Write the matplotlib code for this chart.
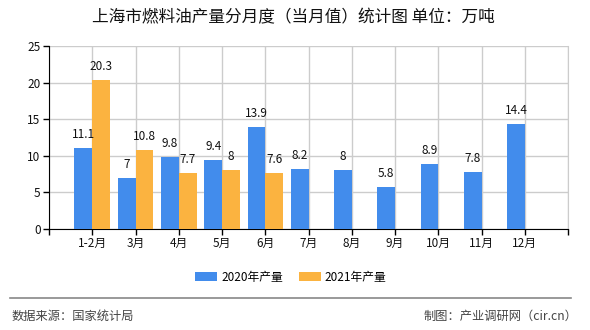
import matplotlib
matplotlib.use('Agg')
import matplotlib.pyplot as plt
import numpy as np

plt.rcParams['font.family'] = ['Noto Sans CJK SC', 'DejaVu Sans']

months = ['1-2月', '3月', '4月', '5月', '6月', '7月', '8月', '9月', '10月', '11月', '12月']
output_2020 = [11.1, 7, 9.8, 9.4, 13.9, 8.2, 8, 5.8, 8.9, 7.8, 14.4]
output_2021 = [20.3, 10.8, 7.7, 8, 7.6]
series_names = ['2020年产量', '2021年产量']

blue = '#428cec'
orange = '#fbb340'

fig = plt.figure(figsize=(5.9, 3.3), dpi=100)
ax = fig.add_axes([0.083, 0.306, 0.88, 0.555])

x = np.arange(1, len(months) + 1)
w = 0.41
b1 = ax.bar(x - w / 2, output_2020, w, color=blue, label=series_names[0], zorder=3)
b2 = ax.bar(x[:len(output_2021)] + w / 2, output_2021, w, color=orange,
            label=series_names[1], zorder=3)

# value labels on top of every bar
for bars, vals in [(b1, output_2020), (b2, output_2021)]:
    for r, v in zip(bars, vals):
        ax.annotate('{:g}'.format(v), (r.get_x() + r.get_width() / 2, v),
                    xytext=(0, 5), textcoords='offset points',
                    ha='center', va='bottom', fontsize=8.5, color='#111111')

ax.set_xlim(0, 12)
ax.set_ylim(0, 25)
ax.set_yticks([0, 5, 10, 15, 20, 25])
ax.set_xticks(list(range(0, 13)))
ax.set_xticklabels([''] + months + [''])
ax.tick_params(axis='both', labelsize=8.5, length=4, width=1, color='black',
               labelcolor='#111111', pad=2)

ax.grid(True, color='#cccccc', lw=1, zorder=0)
ax.spines['top'].set_visible(False)
ax.spines['right'].set_color('#cccccc')
ax.spines['left'].set_color('black')
ax.spines['bottom'].set_color('black')

fig.text(0.498, 0.947, '上海市燃料油产量分月度（当月值）统计图 单位：万吨',
         ha='center', va='center', fontsize=12, color='#111111')

fig.legend(loc='center', bbox_to_anchor=(0.493, 0.16), ncol=2, frameon=False,
           fontsize=8.5, handlelength=1.86, handleheight=0.7, columnspacing=1.35,
           handletextpad=0.34)

fig.add_artist(matplotlib.lines.Line2D([0.017, 0.968], [0.097, 0.097],
                                       color='#888888', lw=1.2))
fig.text(0.02, 0.042, '数据来源：国家统计局', ha='left', va='center',
         fontsize=8.8, color='#444444')
fig.text(0.978, 0.042, '制图：产业调研网（cir.cn）', ha='right', va='center',
         fontsize=8.8, color='#444444')

fig.savefig('out.png', dpi=100)
